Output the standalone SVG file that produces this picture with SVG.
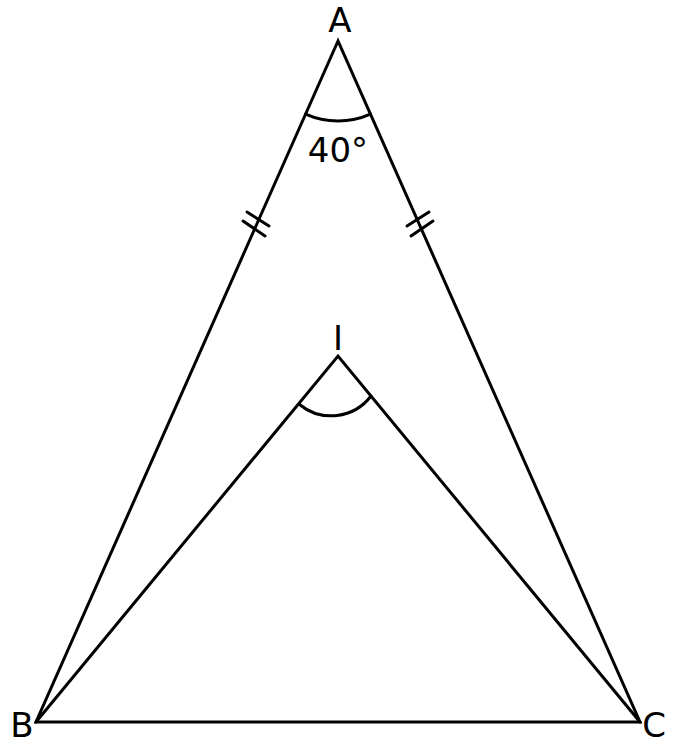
<svg xmlns="http://www.w3.org/2000/svg" width="675" height="756" viewBox="0 0 675 756">
<style>
.ln{stroke:#000;stroke-width:3;fill:none;stroke-linecap:round;stroke-linejoin:miter}
.lb{font-family:"DejaVu Sans","Liberation Sans",sans-serif;font-size:34px;fill:#000;text-anchor:middle}
</style>
<rect width="675" height="756" fill="#fff"/>
<g id="connectors">
<path class="ln" d="M338,41 L36,722 L640,722 Z"/>
<path class="ln" d="M36,722 L338,356 L640,722"/>
<path class="ln" d="M305.6,114.1 A80,80 0 0 0 370.4,114.1"/>
<path class="ln" d="M299.5,404.5 A50,50 0 0 0 371,396"/>
<path class="ln" d="M247,212 L269,226 M243,221 L265,236"/>
<path class="ln" d="M429,212 L407,226 M433,221 L411,236"/>
</g>
<g id="A"><text class="lb" x="340" y="32">A</text></g>
<g id="B"><text class="lb" x="22" y="737">B</text></g>
<g id="C"><text class="lb" x="654" y="737">C</text></g>
<g id="I"><text class="lb" x="338" y="350">I</text></g>
<g id="angleA"><text class="lb" x="338" y="162">40°</text></g>
</svg>
